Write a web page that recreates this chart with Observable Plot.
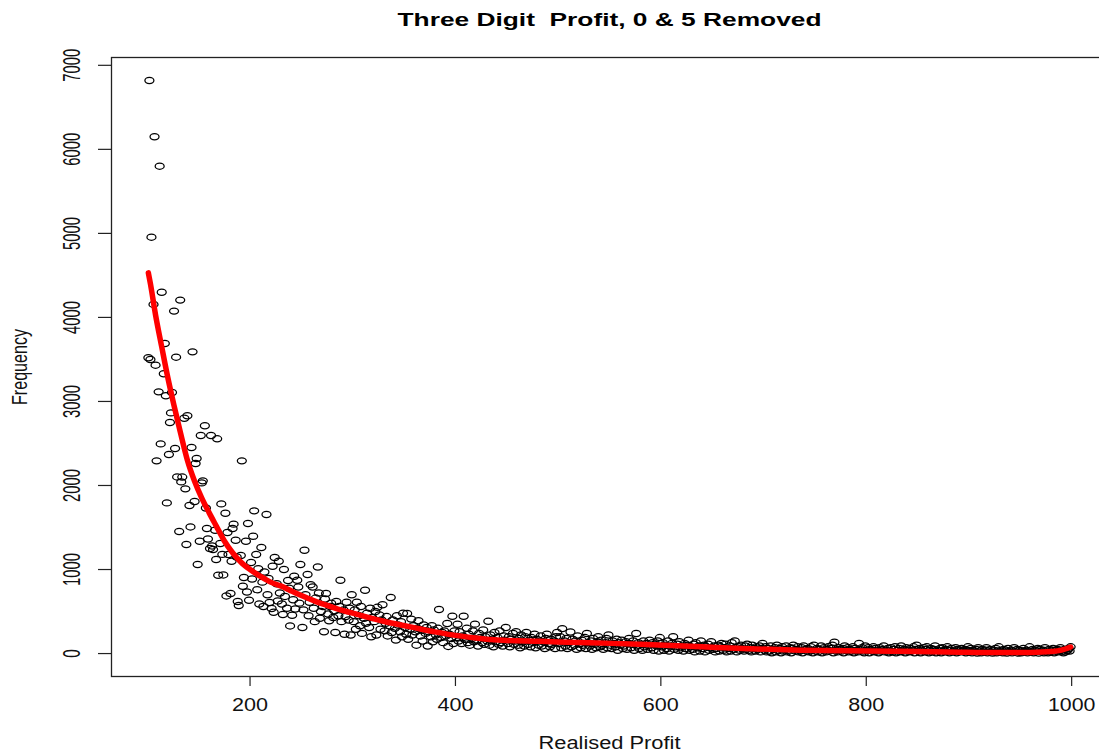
<!DOCTYPE html>
<html><head><meta charset="utf-8">
<script src="https://cdn.jsdelivr.net/npm/d3@7"></script>
<script src="https://cdn.jsdelivr.net/npm/@observablehq/plot@0.6"></script>
<style>
html,body{margin:0;padding:0;background:#fff;overflow:hidden;width:1099px;height:756px}
#chart svg{max-width:none !important;display:block}
</style></head><body><div id="chart"></div>
<script>
// ---- data ----
const titleText = "Three Digit  Profit, 0 & 5 Removed";
const xLabel = "Realised Profit";
const yLabel = "Frequency";
const xTicks = [200, 400, 600, 800, 1000];
const yTicks = [0, 1000, 2000, 3000, 4000, 5000, 6000, 7000];
const hundreds = [100, 200, 300, 400, 500, 600, 700, 800, 900];

// frequencies for x = h+1..h+99, last digit 0 and 5 removed (80 per hundred)
const freq100 = [3520,6820,3500,4955, 4155,6150,3432,2293, 3114,5800,2495,4300, 3329,3690,3067,1793,
  2369,2750,2864,3107, 4075,2440,3527,2102, 1452,4206,2043,2100, 2801,1960,1298,2829,
  1762,1507,2452,3590, 1810,2262,2321,1060, 1337,2595,2031,2055, 2710,1733,1488,1364,
  1250,2595,1281,1238, 1468,1119,2555,932, 1310,1781,1180,936, 1670,686,1440,1179,
  714,1099,1488,1540, 1349,1150,620,571, 1167,2293,801,905, 1337,733,1548,635];
const freq200 = [1083,888,1396,1698, 1179,760,1010,590, 1262,850,560,970, 1655,700,893,607,
  536,1039,492,1143, 830,626,1099,720, 590,464,1000,680, 540,870,777,329,
  456,640,920,530, 873,793,600,1060, 310,520,1230,700, 940,450,610,820,
  793,540,380,660, 1030,720,420,500, 560,260,650,714, 470,390,560,600,
  430,510,250,620, 450,560,873,380, 520,230,440,610, 400,540,220,700];
const freq300 = [380,520,290,610, 450,330,560,240, 420,754,360,480, 310,540,200,430,
  380,500,220,550, 460,290,400,580, 270,360,440,210, 330,667,250,400,
  300,160,450,340, 260,380,200,480, 310,230,476,170, 290,410,220,330,
  260,100,300,390, 210,280,150,340, 240,310,90,260, 200,330,140,280,
  220,170,300,524, 190,250,130,270, 210,357,85,230, 180,444,120,270];
const freq400 = [190,349,150,260, 120,210,444,170, 300,130,230,100, 180,270,140,350,
  160,90,240,190, 130,280,110,200, 150,385,100,220, 170,80,250,140,
  190,110,270,130, 90,210,160,310, 120,200,80,170, 240,110,150,260,
  100,180,70,220, 140,90,200,250, 110,160,80,190, 130,230,70,170,
  100,150,210,90, 140,60,180,230, 120,80,170,110, 150,60,200,250];
const freq500 = [120,200,70,297, 150,90,180,60, 130,257,80,170, 100,150,50,210,
  120,70,160,100, 190,60,238,130, 90,150,50,180, 110,70,140,200,
  80,160,100,50, 130,180,70,220, 100,60,150,120, 80,170,40,130,
  110,160,60,90, 140,50,120,180, 70,110,150,40, 238,90,130,60,
  110,40,150,80, 120,50,100,160, 70,130,40,110, 90,150,30,190];
const freq600 = [80,130,40,100, 60,150,30,90, 120,200,50,80, 110,40,140,70,
  90,30,120,60, 100,160,40,80, 50,110,20,130, 70,90,30,150,
  60,100,20,80, 110,40,70,140, 50,90,20,60, 100,30,80,120,
  40,70,110,20, 60,90,30,130, 50,150,70,20, 80,40,100,60,
  30,90,50,110, 40,70,20,100, 60,30,80,50, 90,20,60,120];
const freq700 = [40,80,20,60, 30,90,10,50, 70,20,100,40, 60,10,80,30,
  50,90,20,40, 70,10,60,100, 30,50,80,20, 40,70,10,90,
  50,30,60,20, 80,40,10,100, 30,60,20,50, 90,10,40,70,
  20,50,80,30, 60,100,10,135, 40,20,70,50, 30,60,10,90,
  40,70,20,50, 30,80,10,60, 40,20,119,50, 70,30,10,90];
const freq800 = [40,70,10,50, 30,80,20,60, 40,10,70,30, 50,90,20,40,
  60,10,30,70, 20,50,80,10, 40,60,20,90, 30,50,10,70,
  40,20,60,30, 80,10,50,100, 30,60,10,40, 70,20,50,80,
  10,40,60,20, 50,90,10,40, 30,60,10,70, 40,20,50,80,
  10,40,60,20, 30,70,10,50, 40,20,60,30, 50,10,40,80];
const freq900 = [30,60,10,40, 20,50,5,70, 30,10,50,20, 40,70,10,30,
  50,20,5,40, 60,10,30,80, 20,40,10,50, 30,5,60,20,
  40,10,30,70, 20,50,5,40, 10,30,60,20, 40,10,30,80,
  20,50,10,40, 30,60,5,50, 20,40,10,70, 30,10,50,20,
  40,60,10,30, 50,20,40,70, 30,10,50,20, 40,60,30,80];
const freqByHundred = [freq100, freq200, freq300, freq400, freq500, freq600, freq700, freq800, freq900];

// fitted curve (red line), read at knots
const fitX = [101,103,108,114,120,126,132,139,146,153,160,167,175,183,191,200,210,220,233,241,250,265,282,300,315,330,347,365,380,395,420,441,483,530,580,640,680,736,780,833,880,931,960,980,990,999];
const fitY = [4530,4400,4030,3650,3280,2950,2640,2300,2050,1850,1680,1520,1340,1200,1090,1000,920,850,790,740,690,615,545,480,430,385,340,295,258,225,185,160,145,128,112,82,60,40,32,27,20,12,14,24,40,78];

// ---- build tables ----
const points = [];
hundreds.forEach((h, i) => {
  let k = 0;
  for (let d = 1; d < 100; d++) {
    if (d % 5 === 0) continue;
    points.push({x: h + d, y: freqByHundred[i][k++]});
  }
});
const fit = fitX.map((x, i) => ({x, y: fitY[i]}));

// open circle, drawn a little wider than tall like the reference
const ellipse = {
  draw(ctx) {
    const rx = 4.5, ry = 3.1, k = 0.5523;
    ctx.moveTo(rx, 0);
    ctx.bezierCurveTo(rx, ry * k, rx * k, ry, 0, ry);
    ctx.bezierCurveTo(-rx * k, ry, -rx, ry * k, -rx, 0);
    ctx.bezierCurveTo(-rx, -ry * k, -rx * k, -ry, 0, -ry);
    ctx.bezierCurveTo(rx * k, -ry, rx, -ry * k, rx, 0);
    ctx.closePath();
  }
};

const font = "'Liberation Sans', Arial, Helvetica, sans-serif";
const chart = Plot.plot({
  width: 1115, height: 756,
  marginTop: 57, marginBottom: 80, marginLeft: 111, marginRight: 8,
  style: {fontFamily: font, background: "#fff", color: "#000", maxWidth: "none"},
  x: {domain: [65.1, 1034.9], axis: null},
  y: {domain: [-273, 7093], axis: null},
  marks: [
    Plot.axisX({ticks: xTicks, tickSize: 10, tickFormat: () => "", label: null, stroke: "#222", strokeWidth: 1.2}),
    Plot.axisY({ticks: yTicks, tickSize: 13, tickFormat: () => "", label: null, stroke: "#222", strokeWidth: 1.2}),
    Plot.frame({stroke: "#222", strokeWidth: 1.3}),
    Plot.dot(points, {x: "x", y: "y", symbol: ellipse, stroke: "#000", strokeWidth: 1.25, fill: "none"}),
    Plot.line(fit, {x: "x", y: "y", stroke: "#ff0000", strokeWidth: 5.5, curve: "monotone-x"}),
    Plot.text(xTicks, {x: d => d, text: d => String(d), frameAnchor: "bottom", dy: 29.3, textAnchor: "middle", lineAnchor: "middle", fontSize: 17.5, fill: "#111"}),
    Plot.text(yTicks, {y: d => d, text: d => String(d), frameAnchor: "left", dx: -39.3, rotate: -90, textAnchor: "middle", lineAnchor: "middle", fontSize: 23, fill: "#111"}),
    Plot.text([titleText], {text: d => d, frameAnchor: "top", dy: -37.7, textAnchor: "middle", lineAnchor: "middle", fontSize: 18, fontWeight: "bold", fill: "#000"}),
    Plot.text([xLabel], {text: d => d, frameAnchor: "bottom", dy: 66.5, textAnchor: "middle", lineAnchor: "middle", fontSize: 17.5, fill: "#111"}),
    Plot.text([yLabel], {text: d => d, frameAnchor: "left", dx: -91.5, rotate: -90, textAnchor: "middle", lineAnchor: "middle", fontSize: 22, fill: "#111"})
  ]
});
document.getElementById("chart").appendChild(chart);

// widen/narrow text to the reference's stretched proportions
chart.querySelectorAll("text").forEach(t => {
  const s = t.textContent;
  if (!s) return;
  const rotated = (t.getAttribute("transform") || "").includes("rotate");
  let L = null;
  if (s === titleText) { L = 424; t.style.whiteSpace = "pre"; }
  else if (s === xLabel) L = 142;
  else if (s === yLabel) L = 76;
  else if (/^\d+$/.test(s)) {
    if (rotated) L = s.length === 1 ? 8.5 : 33;
    else L = s.length === 4 ? 47.5 : 36;
  }
  if (L) { t.setAttribute("textLength", L); t.setAttribute("lengthAdjust", "spacingAndGlyphs"); }
});
</script></body></html>
